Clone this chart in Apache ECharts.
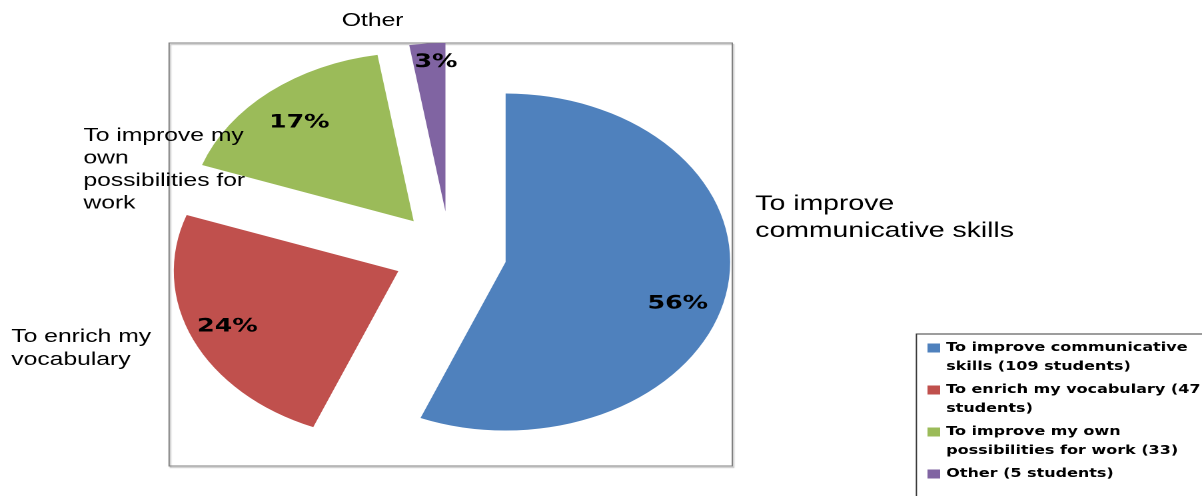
<!DOCTYPE html>
<html>
<head>
<meta charset="utf-8">
<script src="https://cdn.jsdelivr.net/npm/echarts@6/dist/echarts.min.js"></script>
<style>
  html, body { margin: 0; padding: 0; background: #fff; overflow: hidden; }
  /* the chart is laid out narrower and widened to the full page width */
  #chart { width: 902px; height: 496px; transform: scaleX(1.332594); transform-origin: 0 0; }
</style>
</head>
<body>
<div id="chart"></div>
<script>
// Reasons for learning, number of students per answer
const categories = [
  'To improve communicative skills',
  'To enrich my vocabulary',
  'To improve my own possibilities for work',
  'Other'
];
const students = [109, 47, 33, 5];

// Slice captions (wrapped as shown next to the pie)
const sliceLabels = [
  'To improve\ncommunicative skills',
  'To enrich my\nvocabulary',
  'To improve my\nown\npossibilities for\nwork',
  'Other'
];

// Legend entries
const legendLabels = [
  'To improve communicative\nskills (109 students)',
  'To enrich my vocabulary (47\nstudents)',
  'To improve my own\npossibilities for work (33)',
  'Other (5 students)'
];

const colors = ['#4F81BD', '#C0504D', '#9BBB59', '#8064A2'];

// Layout settings
const pieCenter = [337.7, 253.8];
const pieRadius = 168.5;
const explode = 42.5;
const captionPos = [[566.8, 217.7], [8.5, 348.3], [62.6, 169.7], [256.5, 20.8]];
const captionFont = [{ size: 21.3, lh: 27 }, { size: 18.5, lh: 23 }, { size: 18.5, lh: 22.6 }, { size: 18.5, lh: 23 }];
const pctNudge = [[-6, 15], [-2.5, -1], [2.5, 7], [4, -12]];
const legendBox = { x: 687.7, y: 334 };

const chart = echarts.init(document.getElementById('chart'), null, { renderer: 'canvas', devicePixelRatio: 2 });

const sliceData = categories.map((name, i) => ({
  name: name,
  value: students[i],
  selected: true,
  itemStyle: { color: colors[i] }
}));

const pctData = categories.map((name, i) => ({
  name: name,
  value: students[i],
  selected: true
}));

// captions beside the slices
const captionTexts = sliceLabels.map((text, i) => ({
  type: 'text',
  silent: true,
  z: 5,
  style: {
    text: text,
    x: captionPos[i][0],
    y: captionPos[i][1],
    fill: '#000',
    fontFamily: 'Liberation Sans, Arial, sans-serif',
    fontSize: captionFont[i].size,
    lineHeight: captionFont[i].lh,
    textAlign: 'left',
    textVerticalAlign: 'middle'
  }
}));

const legendRich = {
  g: { width: 4.5 },
  sp: { width: 14 },
  t: { fontFamily: 'DejaVu Sans', fontWeight: 'bold', fontSize: 12, color: '#000', lineHeight: 19 }
};
colors.forEach((c, i) => { legendRich['m' + i] = { width: 9.5, height: 9, backgroundColor: c, lineHeight: 19 }; });

chart.setOption({
  animation: false,
  backgroundColor: '#fff',
  graphic: [
    {
      // plot area frame
      type: 'rect',
      z: -10,
      silent: true,
      shape: { x: 126.9, y: 43, width: 422.6, height: 423 },
      style: { fill: 'rgba(0,0,0,0)', stroke: '#808080', lineWidth: 1, shadowColor: 'rgba(0,0,0,0.25)', shadowOffsetX: 1, shadowOffsetY: 1.5, shadowBlur: 1 }
    },
    {
      // legend frame, running past the page edges
      type: 'rect',
      z: -10,
      silent: true,
      shape: { x: legendBox.x, y: legendBox.y, width: 400, height: 300 },
      style: { fill: 'rgba(0,0,0,0)', stroke: '#3c3c3c', lineWidth: 1 }
    }
  ].concat(captionTexts),
  legend: {
    orient: 'vertical',
    left: legendBox.x,
    top: legendBox.y,
    icon: 'none',
    itemWidth: 0,
    itemHeight: 10,
    itemGap: 4,
    padding: [4.5, 0, 0, 3.3],
    borderWidth: 0,
    selectedMode: false,
    data: categories,
    formatter: function (name) {
      const i = categories.indexOf(name);
      return legendLabels[i].split('\n').map(function (line, k) {
        return (k === 0 ? '{m' + i + '|}{g|}' : '{sp|}') + '{t|' + line + '}';
      }).join('\n');
    },
    textStyle: { fontFamily: 'DejaVu Sans', fontWeight: 'bold', fontSize: 12, lineHeight: 19, color: '#000', rich: legendRich }
  },
  series: [
    {
      // exploded slices
      type: 'pie',
      center: pieCenter,
      radius: pieRadius,
      startAngle: 90,
      clockwise: true,
      selectedMode: 'multiple',
      selectedOffset: explode,
      silent: true,
      emphasis: { disabled: true },
      itemStyle: { borderWidth: 0 },
      label: { show: false },
      labelLine: { show: false },
      data: sliceData
    },
    {
      // percentage labels placed in the outer part of each slice
      type: 'pie',
      center: pieCenter,
      radius: [pieRadius * 0.6, pieRadius],
      startAngle: 90,
      clockwise: true,
      selectedMode: 'multiple',
      selectedOffset: explode,
      percentPrecision: 0,
      avoidLabelOverlap: false,
      silent: true,
      emphasis: { disabled: true },
      itemStyle: { color: 'rgba(0,0,0,0)', borderWidth: 0 },
      label: {
        show: true,
        position: 'inside',
        formatter: '{d}%',
        fontFamily: 'DejaVu Sans',
        fontWeight: 'bold',
        fontSize: 19,
        color: '#000',
        textBorderWidth: 0
      },
      labelLine: { show: false },
      labelLayout: function (p) {
        const n = pctNudge[p.dataIndex];
        return { dx: n[0], dy: n[1] };
      },
      data: pctData
    }
  ]
});
</script>
</body>
</html>
